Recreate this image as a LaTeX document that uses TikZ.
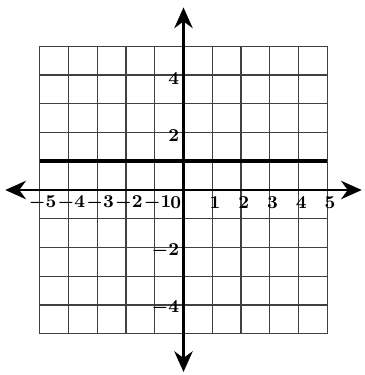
\documentclass[tikz,border=0pt]{standalone}
\usetikzlibrary{arrows.meta}

\tikzset{
  gridline/.style={black!75, line width=0.7pt},
  axisline/.style={black, line width=1.4pt, {Stealth[length=3.6mm,width=3.2mm]}-{Stealth[length=3.6mm,width=3.2mm]}},
  graphline/.style={black, line width=1.8pt},
  ticklabel/.style={font=\small\boldmath, inner sep=0.5pt}
}

\begin{document}
\begin{tikzpicture}[x=0.5cm, y=0.5cm]
  \useasboundingbox (-6.383,-6.435) rectangle (6.313,6.609);
  % Grid 10x10
  \foreach \i in {-5,...,5} \draw[gridline] (\i,-5) -- (\i,5);
  \foreach \j in {-5,...,5} \draw[gridline] (-5,\j) -- (5,\j);
  % Line y = 1
  \coordinate (lineL) at (-5,1);
  \coordinate (lineR) at (5,1);
  \draw[graphline] (lineL) -- (lineR);
  % Axes
  \coordinate (xL) at (-6.2,0);
  \coordinate (xR) at (6.2,0);
  \coordinate (yB) at (0,-6.33);
  \coordinate (yT) at (0,6.35);
  \draw[axisline] (xL) -- (xR);
  \draw[axisline] (yB) -- (yT);
  % Tick labels
  \foreach \x in {-5,...,-1,1,2,3,4,5} \node[ticklabel] (xl\x) at (\x+0.1,-0.45) {$\x$};
  \node[ticklabel] (xl0) at (-0.27,-0.45) {$0$};
  \foreach \y in {-4,-2,2,4} \node[ticklabel, anchor=east] (yl\y) at (-0.1,\y-0.12) {$\y$};
\end{tikzpicture}
\end{document}
